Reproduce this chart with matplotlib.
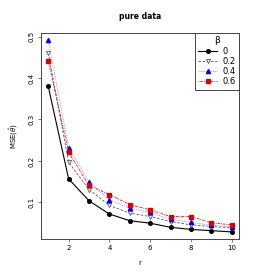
import matplotlib
matplotlib.use("Agg")
import matplotlib.pyplot as plt

r = [1, 2, 3, 4, 5, 6, 7, 8, 9, 10]
mse_b0 = [0.380, 0.157, 0.104, 0.072, 0.056, 0.050, 0.040, 0.035, 0.032, 0.029]
mse_b02 = [0.461, 0.197, 0.131, 0.093, 0.074, 0.066, 0.054, 0.046, 0.042, 0.039]
mse_b04 = [0.492, 0.232, 0.150, 0.106, 0.086, 0.076, 0.059, 0.052, 0.045, 0.041]
mse_b06 = [0.442, 0.221, 0.141, 0.119, 0.095, 0.082, 0.066, 0.066, 0.051, 0.046]
labels = ["0", "0.2", "0.4", "0.6"]

fig = plt.figure(figsize=(2.8, 2.8), dpi=100)
ax = fig.add_axes([0.146, 0.146, 0.708, 0.736])

ax.plot(r, mse_b0, color="black", ls="-", lw=0.8, marker="o", ms=2.6, label=labels[0])
ax.plot(r, mse_b02, color="#555555", ls=(0, (3, 2)), lw=0.6, marker="v", ms=3,
        mfc="white", mec="#555555", mew=0.6, label=labels[1])
ax.plot(r, mse_b04, color="#8080ff", ls=(0, (1, 1.2)), lw=0.6, marker="^", ms=3,
        mfc="blue", mec="blue", label=labels[2])
ax.plot(r, mse_b06, color="red", ls=(0, (1, 1.2, 3, 1.2)), lw=0.6, marker="s", ms=2.5,
        mfc="#dd0000", mec="#dd0000", label=labels[3])

ax.set_xlim(0.64, 10.36)
ax.set_ylim(0.0116, 0.5084)
ax.set_xticks([2, 4, 6, 8, 10])
ax.set_yticks([0.1, 0.2, 0.3, 0.4, 0.5])
ax.set_yticklabels(["0.1", "0.2", "0.3", "0.4", "0.5"], rotation=90, va="center")
ax.tick_params(labelsize=5, length=2.5, width=0.5, pad=2, color="#444444")
for s in ax.spines.values():
    s.set_linewidth(0.7)
    s.set_color("#444444")

ax.set_title("pure data", fontsize=5.5, fontweight="bold", pad=10)
ax.set_xlabel("r", fontsize=5, labelpad=6)
ax.set_ylabel("MSE($\\hat{\\theta}$)", fontsize=5, labelpad=6)

leg = ax.legend(title="β", loc="upper right", fontsize=6, title_fontsize=6.5,
                fancybox=False, framealpha=1, borderaxespad=0, handlelength=2.2,
                labelspacing=0.15, handletextpad=0.7, borderpad=0.4)
leg.get_frame().set_edgecolor("#444444")
leg.get_frame().set_linewidth(0.7)

fig.savefig("out.png", dpi=100)
